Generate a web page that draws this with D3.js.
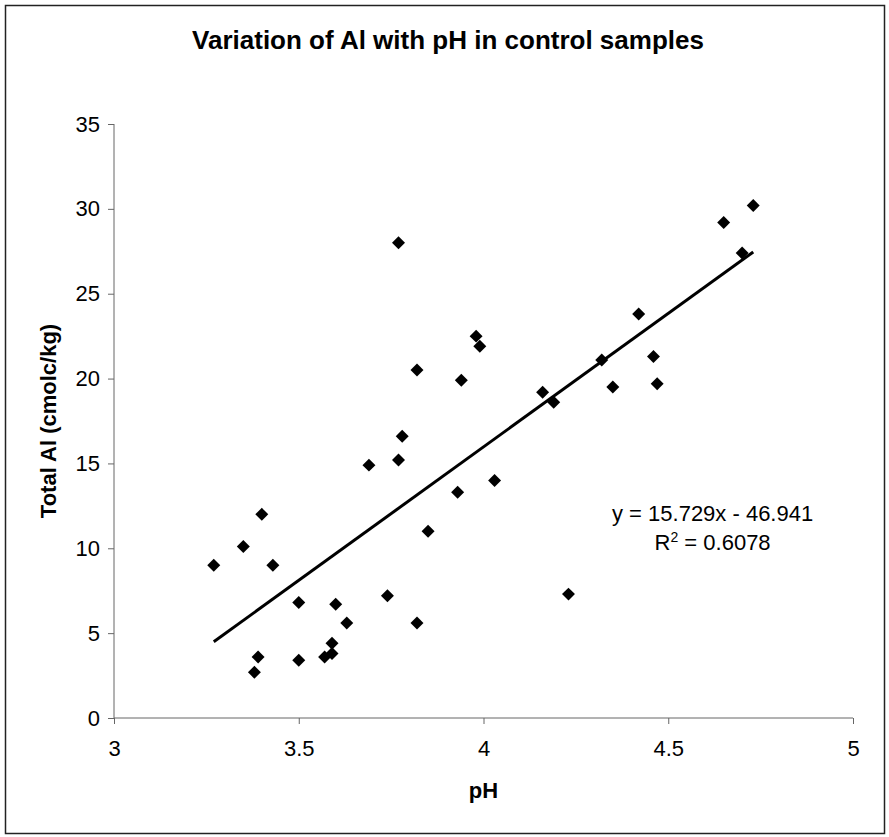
<!DOCTYPE html>
<html lang="en">
<head>
    <meta charset="UTF-8">
    <title>Variation of Al with pH</title>
    <script src="https://cdn.jsdelivr.net/npm/d3@7/dist/d3.min.js"></script>
    <style>
        body { margin: 0; background: #fff; }
        text { font-family: "Liberation Sans", Arial, sans-serif; fill: #000; }
        .axis path, .axis line { stroke: #666; }
        .axis text { font-size: 22px; font-family: "Liberation Sans", Arial, sans-serif; }
    </style>
</head>
<body>
    <svg width=889 height=837></svg>
    <script>
        // pH of each control sample
        var phValues = [3.27, 3.35, 3.40, 3.43, 3.39, 3.38, 3.50, 3.50, 3.57, 3.59,
                        3.59, 3.60, 3.63, 3.69, 3.74, 3.77, 3.77, 3.78, 3.82, 3.82,
                        3.85, 3.93, 3.94, 3.98, 3.99, 4.03, 4.16, 4.19, 4.23, 4.32,
                        4.35, 4.42, 4.46, 4.47, 4.65, 4.70, 4.73];
        // total Al (cmolc/kg), same order
        var alValues = [9.0, 10.1, 12.0, 9.0, 3.6, 2.7, 3.4, 6.8, 3.6, 3.8,
                        4.4, 6.7, 5.6, 14.9, 7.2, 15.2, 28.0, 16.6, 20.5, 5.6,
                        11.0, 13.3, 19.9, 22.5, 21.9, 14.0, 19.2, 18.6, 7.3, 21.1,
                        19.5, 23.8, 21.3, 19.7, 29.2, 27.4, 30.2];
        var xTicks = [3, 3.5, 4, 4.5, 5];
        var yTicks = [0, 5, 10, 15, 20, 25, 30, 35];
        var slope = 15.729, intercept = -46.941, rSquared = 0.6078;

        var svg = d3.select('svg'),
            margin = { top: 124, right: 36, bottom: 119, left: 114 },
            chartWidth = 889 - margin.left - margin.right,
            chartHeight = 837 - margin.top - margin.bottom,
            points = phValues.map(function(d, i) { return [d, alValues[i]]; }),
            xScale = d3.scaleLinear().domain([3, 5]).range([0, chartWidth]),
            yScale = d3.scaleLinear().domain([0, 35]).range([chartHeight, 0]);

        // outer frame
        svg.append('rect')
            .attr('x', 5.5).attr('y', 5.5)
            .attr('width', 879).attr('height', 828)
            .attr('fill', 'none')
            .attr('stroke', '#222')
            .attr('stroke-width', 1.5);

        svg.append('text')
            .attr('x', 448).attr('y', 49)
            .attr('text-anchor', 'middle')
            .style('font-size', '26px')
            .style('font-weight', 'bold')
            .text('Variation of Al with pH in control samples');

        var chartG = svg.append('g')
            .attr('transform', 'translate(' + [margin.left, margin.top] + ')');

        chartG.append('g')
            .classed('axis', true)
            .call(d3.axisLeft(yScale).tickValues(yTicks).tickSize(6).tickPadding(8));

        chartG.append('g')
            .classed('axis', true)
            .attr('transform', 'translate(' + [0, chartHeight] + ')')
            .call(d3.axisBottom(xScale).tickValues(xTicks).tickFormat(d3.format('')).tickSize(6).tickPadding(16));

        // plain axis lines without the end caps
        chartG.selectAll('.axis .domain').attr('d', function() {
            return d3.select(this.parentNode).attr('transform') ? 'M0,0H' + chartWidth : 'M0,0V' + chartHeight;
        });

        // trend line across the data range
        var xExt = d3.extent(phValues);
        chartG.append('line')
            .attr('x1', xScale(xExt[0])).attr('y1', yScale(slope * xExt[0] + intercept))
            .attr('x2', xScale(xExt[1])).attr('y2', yScale(slope * xExt[1] + intercept))
            .attr('stroke', '#000')
            .attr('stroke-width', 3);

        chartG.selectAll('.pt')
            .data(points)
            .enter().append('path')
            .classed('pt', true)
            .attr('d', d3.symbol().type(d3.symbolSquare).size(84))
            .attr('transform', function(d) {
                return 'translate(' + [xScale(d[0]), yScale(d[1])] + ') rotate(45)';
            })
            .attr('fill', '#000');

        var eqX = xScale(4.62);
        var eq = chartG.append('text')
            .attr('x', eqX).attr('y', yScale(11.6))
            .attr('text-anchor', 'middle')
            .style('font-size', '22px');
        eq.append('tspan')
            .text('y = ' + slope + 'x - ' + Math.abs(intercept));
        eq.append('tspan')
            .attr('x', eqX).attr('dy', 29)
            .text('R');
        eq.append('tspan')
            .attr('dy', -8).style('font-size', '14px')
            .text('2');
        eq.append('tspan')
            .attr('dy', 8)
            .text(' = ' + rSquared);

        svg.append('text')
            .attr('x', margin.left + chartWidth / 2).attr('y', 798)
            .attr('text-anchor', 'middle')
            .style('font-size', '22px')
            .style('font-weight', 'bold')
            .text('pH');

        svg.append('text')
            .attr('transform', 'translate(56,' + (margin.top + chartHeight / 2) + ') rotate(-90)')
            .attr('text-anchor', 'middle')
            .style('font-size', '22px')
            .style('font-weight', 'bold')
            .text('Total Al (cmolc/kg)');
    </script>
</body>
</html>
